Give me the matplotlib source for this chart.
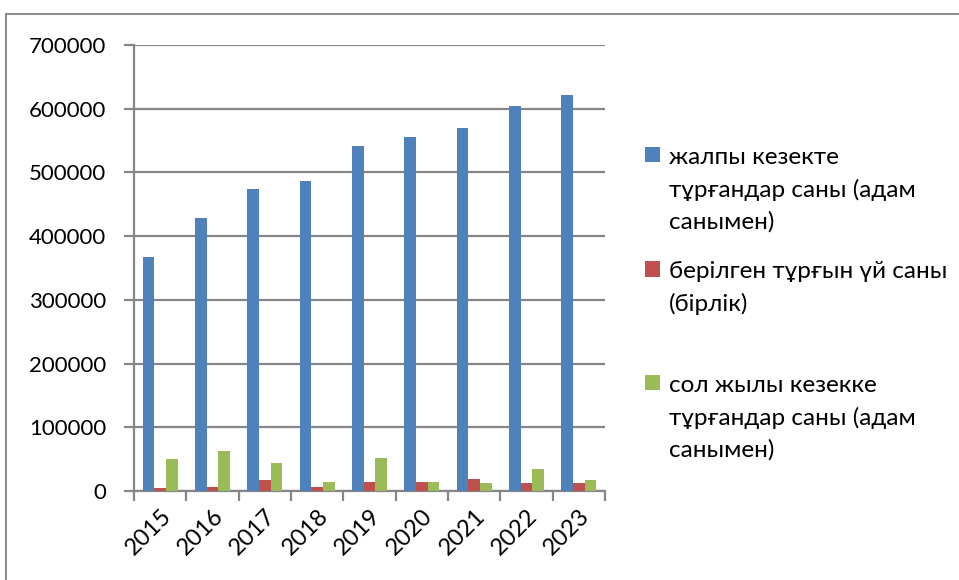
import numpy as np
import matplotlib.pyplot as plt
from matplotlib.patches import Rectangle

plt.rcParams['font.family'] = ['Lato', 'DejaVu Sans']

#### Data ####
years = ['2015', '2016', '2017', '2018', '2019', '2020', '2021', '2022', '2023']
queue_total = [367000, 429000, 474000, 486000, 542000, 556000, 569000, 604000, 622000]
housing_given = [4200, 6800, 17400, 6800, 14200, 14500, 19500, 12100, 12100]
queue_new = [50000, 62600, 44700, 14200, 52000, 14500, 12100, 34700, 17400]
labels = ['жалпы кезекте\nтұрғандар саны (адам\nсанымен)',
          'берілген тұрғын үй саны\n(бірлік)\n',
          'сол жылы кезекке\nтұрғандар саны (адам\nсанымен)']

#### Figure ####
fig = plt.figure(figsize=(9.59, 5.8), dpi=100)
ax = fig.add_axes([134/959, 1-491/580, (605-134)/959, (491-45)/580])

grid_c = '#868686'
x = np.arange(len(years))
w = 0.223
b1 = ax.bar(x - w, queue_total, w, color='#4F81BD', zorder=3)
b2 = ax.bar(x, housing_given, w, color='#C0504D', zorder=3)
b3 = ax.bar(x + w, queue_new, w, color='#9BBB59', zorder=3)

ax.set_ylim(0, 700000)
ax.set_xlim(-0.5, len(years) - 0.5)
ax.set_yticks(np.arange(0, 700001, 100000))
ax.set_yticklabels([str(v) for v in range(0, 700001, 100000)], fontsize=16)
ax.yaxis.grid(True, color=grid_c, linewidth=1.6, zorder=0)
ax.tick_params(axis='y', length=7, width=1.6, color=grid_c, pad=13)

ax.set_xticks(x)
ax.set_xticklabels(years, fontsize=17, rotation=45, ha='right', rotation_mode='anchor')
ax.tick_params(axis='x', which='major', length=0, pad=10)
ax.set_xticks(np.arange(-0.5, len(years)), minor=True)
ax.tick_params(axis='x', which='minor', length=7, width=1.6, color=grid_c)

for s in ['top', 'right']:
    ax.spines[s].set_visible(False)
for s in ['left', 'bottom']:
    ax.spines[s].set_color(grid_c)
    ax.spines[s].set_linewidth(1.6)

leg = fig.legend([b1, b2, b3], labels, loc='upper left',
                 bbox_to_anchor=(645/959, 1-147/580), frameon=False,
                 fontsize=17.5, handlelength=0.6, handleheight=0.6,
                 handletextpad=0.38, labelspacing=1.17, borderpad=0,
                 borderaxespad=0)
for t in leg.get_texts():
    t.set_linespacing(1.6)
# squares sit on the first line of each label
for row in leg._legend_handle_box.get_children()[0].get_children():
    row.align = 'top'

# chart border
fig.patches.append(Rectangle((6/959, -0.1), 1.2, 1.1 - 14/580, transform=fig.transFigure,
                             fill=False, edgecolor='#8c8c8c', linewidth=1.5))

fig.savefig('out.png', dpi=100)
